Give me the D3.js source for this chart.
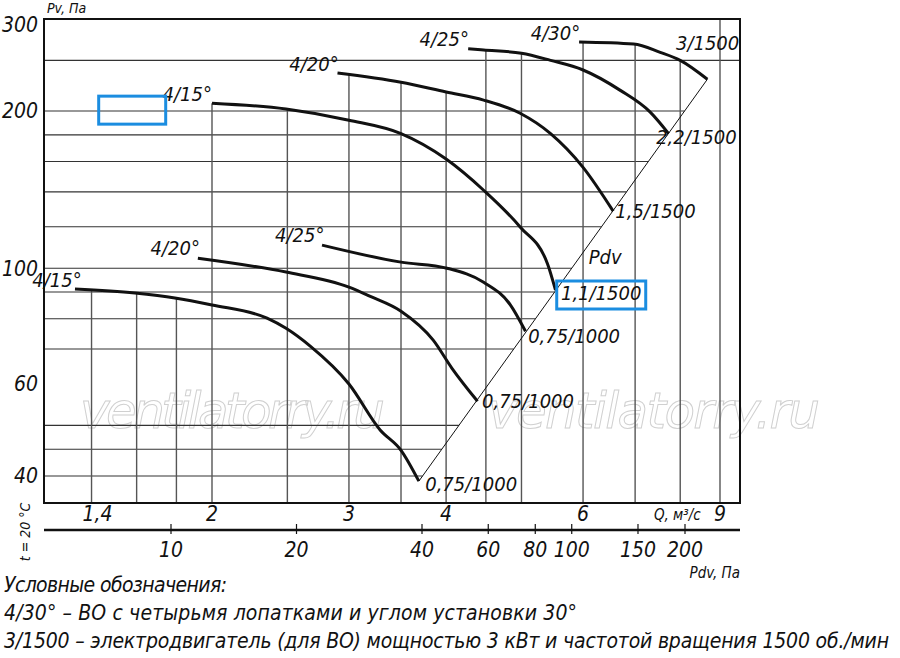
<!DOCTYPE html>
<html>
<head>
<meta charset="utf-8">
<script src="https://cdn.jsdelivr.net/npm/d3@7"></script>
<style>
  body { margin: 0; background: #fff; }
  text { font-family: 'Liberation Sans Narrow', 'DejaVu Sans Condensed', sans-serif; font-style: italic; fill: #111; }
</style>
</head>
<body>
<div id="chart"></div>
<script>
// Pv tick labels and horizontal grid values
const pvTicks = [300, 200, 100, 60, 40];
const pvGrid = [250, 200, 180, 160, 140, 120, 100, 90, 80, 70, 50, 45, 40];
// Q tick labels and vertical grid values
const qTicks = [1.4, 2, 3, 4, 6, 9];
const qGrid = [1.4, 1.6, 1.8, 2, 2.5, 3, 3.5, 4, 4.5, 5, 6, 7, 8, 9];
// Pdv axis ticks
const pdvTicks = [10, 20, 40, 60, 80, 100, 150, 200];

// Characteristic curves [Q, Pv]
const curve15low = [[1.333, 91.2], [1.592, 89.6], [1.792, 87.7], [2, 85], [2.354, 80.2], [2.49, 76.7], [2.675, 70.9], [3, 60], [3.29, 49], [3.5, 44.8], [3.69, 39.1]];
const curve20low = [[1.918, 104.5], [2.49, 98.3], [3, 92], [3.19, 88.4], [3.5, 82.7], [3.85, 72.8], [4.07, 64.3], [4.39, 55.6]];
const curve25low = [[2.77, 110.7], [3.5, 102.7], [4.01, 100], [4.47, 94], [4.84, 85], [5.06, 75.7]];
const curve15high = [[2, 207], [2.49, 201.7], [3, 192], [3.5, 181], [4, 161.8], [4.47, 141], [4.98, 119.9], [5.4, 102], [5.53, 90.8]];
const curve20high = [[2.9, 236.4], [3.5, 227], [4, 217.4], [4.47, 209.8], [4.98, 198], [5.45, 181], [6, 156], [6.56, 128.6]];
const curve25high = [[4.27, 263], [4.47, 261.6], [5, 258], [5.45, 250], [6, 239.6], [6.7, 219], [7.32, 199], [7.73, 181]];
const curve30 = [[5.93, 271], [6.97, 268.6], [7.54, 259], [8, 250], [8.67, 230]];
const pdvLine = [[3.69, 39.1], [8.67, 230]];
const curves = [curve15low, curve20low, curve25low, curve15high, curve20high, curve25high, curve30];

// Labels: text, anchor [Q, Pv]
const curveLabels = [
  ["4/15°", 1.36, 92, "end"], ["4/20°", 1.93, 106, "end"], ["4/25°", 2.79, 112, "end"],
  ["4/15°", 2.0, 209, "end"], ["4/20°", 2.91, 239, "end"], ["4/25°", 4.28, 266, "end"], ["4/30°", 5.95, 274, "end"]
];
const motorLabels = [
  ["3/1500", 7.9, 262], ["2,2/1500", 7.45, 173], ["1,5/1500", 6.6, 125], ["Pdv", 6.1, 102],
  ["1,1/1500", 5.62, 87], ["0,75/1000", 5.1, 72], ["0,75/1000", 4.45, 54], ["0,75/1000", 3.76, 37.4]
];
const legendLines = [
  "Условные обозначения:",
  "4/30° – ВО с четырьмя лопатками и углом установки 30°",
  "3/1500 – электродвигатель (для ВО) мощностью 3 кВт и частотой вращения 1500 об./мин"
];
const legendWidths = [223, 573, 885];

const width = 900, height = 658;
const plotLeft = 44, plotRight = 740, plotTop = 19, plotBottom = 503;

const svg = d3.select("#chart").append("svg").attr("width", width).attr("height", height);

const x = d3.scaleLog().domain([2, 9]).range([212, 720]);
const y = d3.scaleLog().domain([40, 300]).range([476, plotTop]);
const xp = d3.scaleLog().domain([10, 40, 200]).range([171, 422, 685]);

// log interpolation helper
function interp(pts, q) {
  for (let i = 0; i < pts.length - 1; i++) {
    const [q0, p0] = pts[i], [q1, p1] = pts[i + 1];
    if (q >= q0 && q <= q1) {
      const t = (Math.log(q) - Math.log(q0)) / (Math.log(q1) - Math.log(q0));
      return Math.exp(Math.log(p0) + t * (Math.log(p1) - Math.log(p0)));
    }
  }
  return null;
}
function pdvQ(pv) {
  const [[q0, p0], [q1, p1]] = pdvLine;
  if (pv > p1) return null;
  const t = (Math.log(pv) - Math.log(p0)) / (Math.log(p1) - Math.log(p0));
  return Math.exp(Math.log(q0) + t * (Math.log(q1) - Math.log(q0)));
}

// watermark
[[80, 385], [488, 820]].forEach(([a, b]) => {
  svg.append("text").attr("x", a).attr("y", 428).attr("textLength", b - a)
    .style("font-family", "'DejaVu Sans', sans-serif").style("font-style", "italic")
    .style("font-size", "50px").style("font-weight", "200")
    .style("fill", "none").style("stroke", "#d0d0d0").style("stroke-width", 1)
    .text("ventilatorry.ru");
});

// horizontal grid
svg.append("g").selectAll("line").data(pvGrid).join("line")
  .attr("x1", plotLeft).attr("x2", d => { const q = pdvQ(d); return q ? x(q) : plotRight; })
  .attr("y1", d => y(d)).attr("y2", d => y(d))
  .attr("stroke", "#333").attr("stroke-width", 1.1);

// vertical grid, starting under the upper curve envelope
svg.append("g").selectAll("line").data(qGrid).join("line")
  .attr("x1", d => x(d)).attr("x2", d => x(d))
  .attr("y1", d => {
    const vals = curves.map(c => interp(c, d)).filter(v => v !== null);
    return vals.length ? y(d3.max(vals)) : plotTop;
  })
  .attr("y2", plotBottom)
  .attr("stroke", "#555").attr("stroke-width", 1.4);

// frame
svg.append("rect").attr("x", plotLeft).attr("y", plotTop).attr("width", plotRight - plotLeft).attr("height", plotBottom - plotTop)
  .attr("fill", "none").attr("stroke", "#111").attr("stroke-width", 2);

// Pdv line
const line = d3.line().x(d => x(d[0])).y(d => y(d[1]));
svg.append("path").attr("d", line(pdvLine)).attr("fill", "none").attr("stroke", "#111").attr("stroke-width", 1);

// curves
svg.append("g").selectAll("path").data(curves).join("path")
  .attr("d", d3.line().x(d => x(d[0])).y(d => y(d[1])).curve(d3.curveMonotoneX))
  .attr("fill", "none").attr("stroke", "#111").attr("stroke-width", 3);

// curve labels
curveLabels.forEach(([t, q, p, a]) => {
  svg.append("text").attr("x", x(q)).attr("y", y(p)).attr("text-anchor", a)
    .style("font-size", "20px").text(t);
});
motorLabels.forEach(([t, q, p]) => {
  svg.append("text").attr("x", x(q)).attr("y", y(p)).style("font-size", "20px").text(t);
});

// blue boxes
const bx = [[x(1.43), y(213.5), 67, 28], [x(5.55), y(94.5), 89, 28]];
bx.forEach(([a, b, w, h]) => {
  svg.append("rect").attr("x", a).attr("y", b).attr("width", w).attr("height", h)
    .attr("fill", "none").attr("stroke", "#1b8de0").attr("stroke-width", 3);
});

// Pv axis labels
svg.append("g").selectAll("text").data(pvTicks).join("text")
  .attr("x", 38).attr("y", d => d === 300 ? y(d) + 6 : y(d)).attr("dy", "0.35em")
  .attr("text-anchor", "end").style("font-size", "21px").text(d => d);
svg.append("text").attr("x", 47).attr("y", 13).style("font-size", "14px").text("Pv, Па");

// Q axis labels
svg.append("g").selectAll("text").data(qTicks).join("text")
  .attr("x", d => x(d) + (d === 1.4 ? 6 : 0)).attr("y", 514).attr("dy", "0.35em")
  .attr("text-anchor", "middle").style("font-size", "21px").text(d => String(d).replace(".", ","));
svg.append("text").attr("x", x(7.4)).attr("y", 520).style("font-size", "15px").text("Q, м³/с");

// Pdv axis
svg.append("line").attr("x1", plotLeft).attr("x2", plotRight).attr("y1", 530).attr("y2", 530)
  .attr("stroke", "#111").attr("stroke-width", 2.5);
svg.append("g").selectAll("line").data(pdvTicks).join("line")
  .attr("x1", d => xp(d)).attr("x2", d => xp(d)).attr("y1", 524).attr("y2", 534)
  .attr("stroke", "#111").attr("stroke-width", 1.2);
svg.append("g").selectAll("text").data(pdvTicks).join("text")
  .attr("x", d => xp(d)).attr("y", 550).attr("dy", "0.35em")
  .attr("text-anchor", "middle").style("font-size", "21px").text(d => d);
svg.append("text").attr("x", 740).attr("y", 578).attr("text-anchor", "end").style("font-size", "15px").text("Pdv, Па");

// temperature note
svg.append("text").attr("transform", "translate(30,532) rotate(-90)").attr("text-anchor", "middle")
  .style("font-size", "14px").text("t = 20 °C");

// legend
legendLines.forEach((t, i) => {
  svg.append("text").attr("x", 4).attr("y", 592 + i * 28)
    .attr("textLength", legendWidths[i]).attr("lengthAdjust", "spacing")
    .style("font-size", "21px").text(t);
});
</script>
</body>
</html>
